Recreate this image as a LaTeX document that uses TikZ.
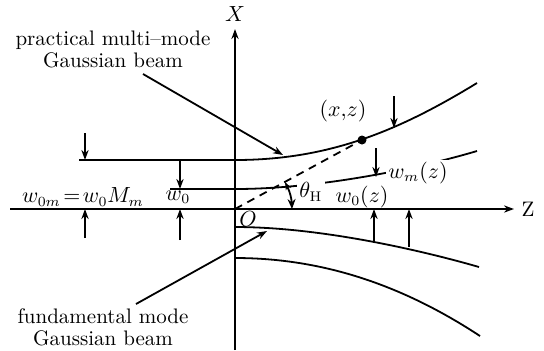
\documentclass[tikz,border=0pt]{standalone}
\usepackage{amsmath}
\usetikzlibrary{arrows.meta,positioning,calc}

\begin{document}
\begin{tikzpicture}[x=0.5pt,y=-0.5pt,line width=0.9pt,
  every node/.style={font=\fontsize{10.5}{11}\selectfont},
  tip/.style={-{Stealth[length=5pt,width=3.6pt]}},
  gap/.style={fill=white,inner sep=1pt}]
  \useasboundingbox (0,0) rectangle (544,350);
  % axes
  \coordinate (O) at (235,209);
  \coordinate (zl) at (10,209);
  \coordinate (xb) at (235,350);
  \node (Zlab) at (528,209) {Z};
  \node (Xlab) at (235,14) {$X$};
  \draw[tip] (zl) -- (Zlab.west);
  \draw[tip] (xb) -- (Xlab.south);
  \node (Olab) at (248,219) {$O$};
  % multi-mode beam
  \draw (79,160) -- (235,160) .. controls (330,160) and (400,130) .. (477,83);
  \draw (235,258) .. controls (330,258) and (410,290) .. (480,336);
  % fundamental mode beam
  \draw (170,189) -- (235,189) .. controls (320,189) and (420,168) .. (477,151);
  \draw (235,227) .. controls (320,227) and (420,250) .. (479,267);
  % point on the beam and far-field angle
  \node[circle,fill,inner sep=0pt,minimum size=4.5pt] (P) at (362,140) {};
  \draw[dashed,dash pattern=on 4pt off 3pt] (O) -- (P.center);
  \coordinate (a1) at (292,209);
  \coordinate (a2) at (285,182);
  \draw[{Stealth[length=4pt,width=3pt]}-{Stealth[length=5pt,width=4pt]}] (a2) to[bend left=12] (a1);
  % width arrows
  \foreach \i/\x/\ya/\yb in {1/85/133/160, 2/85/238/209, 3/180/160/189, 4/180/240/209,
                             5/394/96/128, 6/376/148/177, 7/374/241/209, 8/409/247/209}{
     \coordinate (s\i) at (\x,\ya);
     \coordinate (t\i) at (\x,\yb);
     \draw[tip] (s\i) -- (t\i);
  }
  % labels
  \node[gap] (theta) at (311,192) {$\theta_{\mathrm{H}}$};
  \node[gap] (wm) at (418,173) {$w_m(z)$};
  \node (wz) at (362,197) {$w_0(z)$};
  \node (w0m) at (83,197) {$w_{0m}\!=\!w_0M_m$};
  \node (w0) at (178,197) {$w_0$};
  \node (xz) at (343,111) {$(x,\!z)$};
  \node[align=center] (multi) at (113,49) {practical multi--mode\\Gaussian beam};
  \node[align=center] (fund) at (103,327) {fundamental mode\\Gaussian beam};
  \coordinate (m1) at (143,74);
  \coordinate (m2) at (283,155);
  \coordinate (f1) at (136,304);
  \coordinate (f2) at (267,231);
  \draw[tip] (m1) -- (m2);
  \draw[tip] (f1) -- (f2);
\end{tikzpicture}
\end{document}
